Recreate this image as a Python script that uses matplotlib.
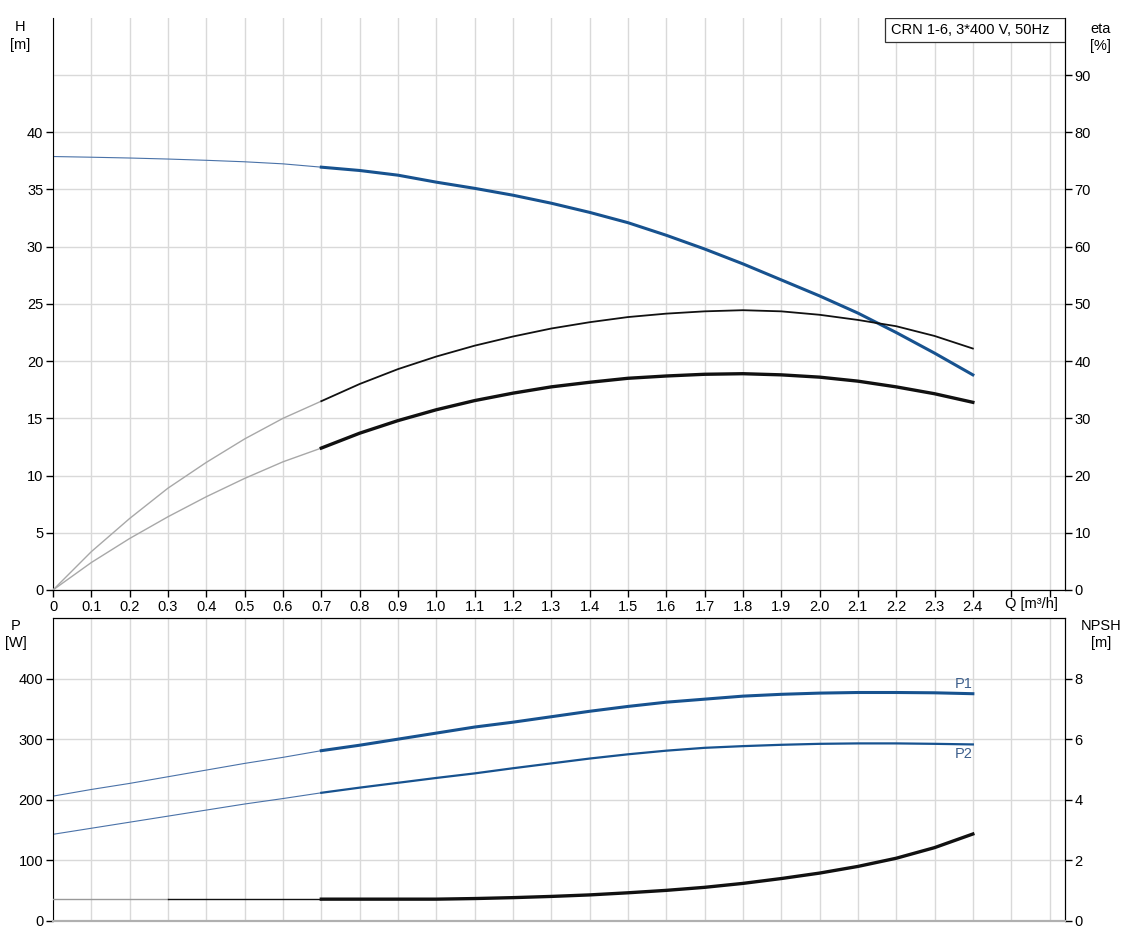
import matplotlib
matplotlib.use("Agg")
import matplotlib.pyplot as plt
from matplotlib.patches import Rectangle
from matplotlib.ticker import FixedLocator

plt.rcParams['font.family'] = ['Liberation Sans', 'DejaVu Sans']
plt.rcParams['font.size'] = 10.5

# flow [m3/h]
q = [0.0, 0.1, 0.2, 0.3, 0.4, 0.5, 0.6, 0.7, 0.8, 0.9, 1.0, 1.1, 1.2,
     1.3, 1.4, 1.5, 1.6, 1.7, 1.8, 1.9, 2.0, 2.1, 2.2, 2.3, 2.4]
# head [m]
head = [37.88, 37.82, 37.75, 37.66, 37.55, 37.42, 37.24, 36.95, 36.66, 36.25,
        35.64, 35.1, 34.5, 33.8, 33.0, 32.1, 31.0, 29.8, 28.5, 27.1,
        25.7, 24.2, 22.5, 20.7, 18.8]
# pump efficiency [%]
eta_pump = [0.0, 6.7, 12.5, 17.8, 22.3, 26.4, 30.0, 33.0, 36.0, 38.6,
            40.8, 42.7, 44.3, 45.7, 46.8, 47.7, 48.3, 48.7, 48.9, 48.7,
            48.1, 47.2, 46.1, 44.4, 42.2]
# total efficiency [%]
eta_total = [0.0, 4.8, 9.0, 12.8, 16.3, 19.5, 22.4, 24.8, 27.4, 29.6,
             31.5, 33.1, 34.4, 35.5, 36.3, 37.0, 37.4, 37.7, 37.8, 37.6,
             37.2, 36.5, 35.5, 34.3, 32.8]
# power [W]
p1 = [206, 217, 227, 238, 249, 260, 270, 281, 290, 300, 310, 320, 328,
      337, 346, 354, 361, 366, 371, 374, 376, 377, 377, 376.5, 375]
p2 = [143, 153, 163, 173, 183, 193, 202, 211.5, 220, 228, 236, 243.5, 252,
      260, 268, 275, 281, 285.7, 288.5, 290.7, 292.3, 293, 293, 292.3, 291.3]
# NPSH [m]
npsh = [0.72, 0.72, 0.72, 0.72, 0.72, 0.72, 0.72, 0.72, 0.72, 0.72, 0.72,
        0.74, 0.77, 0.81, 0.86, 0.93, 1.01, 1.11, 1.24, 1.40, 1.58, 1.80,
        2.07, 2.42, 2.87]

x_ticks = [i / 10 for i in range(27)]
x_labels = ['0'] + ['%.1f' % v for v in x_ticks[1:25]] + ['', '']

blue = '#17528f'
grid_c = '#d9d9d9'
k = 7  # index of Q=0.7, start of the operating range

fig = plt.figure(figsize=(11.28, 9.39), dpi=100)
ax = fig.add_axes([0.047, 0.3717, 0.897, 0.6093])
ax_eta = ax.twinx()
axp = fig.add_axes([0.047, 0.0192, 0.897, 0.3227])
ax_npsh = axp.twinx()

# ---- top panel: head + efficiencies
ax.plot(q[:k + 1], head[:k + 1], color='#4a72a8', lw=0.8)
ax.plot(q[k:], head[k:], color=blue, lw=2.2)
ax_eta.plot(q[:k + 1], eta_pump[:k + 1], color='#a8a8a8', lw=1.0)
ax_eta.plot(q[k:], eta_pump[k:], color='#111111', lw=1.3)
ax_eta.plot(q[:k + 1], eta_total[:k + 1], color='#a8a8a8', lw=1.0)
ax_eta.plot(q[k:], eta_total[k:], color='#111111', lw=2.4)

ax.set_xlim(0, 2.64)
ax.set_ylim(0, 50)
ax_eta.set_ylim(0, 100)
ax.set_xticks(x_ticks)
ax.set_xticklabels(x_labels)
ax.set_yticks(range(0, 45, 5))
ax.yaxis.set_minor_locator(FixedLocator([45]))
ax.tick_params(axis='y', which='minor', length=0)
ax_eta.set_yticks(range(0, 100, 10))
ax.grid(True, which='both', color=grid_c, lw=1)
ax.set_axisbelow(True)
ax.annotate('Q [m³/h]', xy=(2.5, 0), xycoords=('data', 'axes fraction'),
            xytext=(-4.5, -5), textcoords='offset points',
            ha='left', va='top')

for a in (ax, ax_eta):
    a.spines['top'].set_visible(False)
    a.spines['bottom'].set_color('black')
ax_eta.spines['left'].set_visible(False)
ax.tick_params(direction='out', length=5, width=1, pad=2)
ax_eta.tick_params(direction='out', length=5, width=1, pad=2)

fig.text(0.018, 0.979, 'H\n[m]', ha='center', va='top', linespacing=1.35)
fig.text(0.976, 0.977, 'eta\n[%]', ha='center', va='top', linespacing=1.3)

# title box in the top right corner
ax.add_patch(Rectangle((0.822, 0.958), 0.178, 0.042, transform=ax.transAxes,
                       fc='white', ec='#333333', lw=0.9, zorder=5))
ax.text(0.828, 0.979, 'CRN 1-6, 3*400 V, 50Hz', transform=ax.transAxes,
        ha='left', va='center', zorder=6)

# ---- bottom panel: power + NPSH
axp.plot(q[:k + 1], p1[:k + 1], color='#4a72a8', lw=0.8)
axp.plot(q[k:], p1[k:], color=blue, lw=2.2)
axp.plot(q[:k + 1], p2[:k + 1], color='#4a72a8', lw=0.8)
axp.plot(q[k:], p2[k:], color=blue, lw=1.6)
ax_npsh.plot(q[:4], npsh[:4], color='#999999', lw=1.0)
ax_npsh.plot(q[3:k + 1], npsh[3:k + 1], color='#111111', lw=1.0)
ax_npsh.plot(q[k:], npsh[k:], color='#111111', lw=2.4)

axp.text(q[-1], p1[-1] + 5, 'P1', ha='right', va='bottom', color='#3d5f8c')
axp.text(q[-1], p2[-1] - 5, 'P2', ha='right', va='top', color='#3d5f8c')

axp.set_xlim(0, 2.64)
axp.set_ylim(0, 500)
ax_npsh.set_ylim(0, 10)
axp.set_xticks(x_ticks)
axp.tick_params(axis='x', length=0, labelbottom=False)
axp.set_yticks(range(0, 500, 100))
axp.yaxis.set_minor_locator(FixedLocator([500]))
axp.tick_params(axis='y', which='minor', length=0)
ax_npsh.set_yticks(range(0, 10, 2))
axp.grid(True, which='both', color=grid_c, lw=1)
axp.set_axisbelow(True)
for a in (axp, ax_npsh):
    a.spines['bottom'].set_color('#b0b0b0')
    a.spines['bottom'].set_linewidth(1.5)
    a.spines['top'].set_color('black')
ax_npsh.spines['left'].set_visible(False)
axp.tick_params(axis='y', direction='out', length=5, width=1, pad=2)
ax_npsh.tick_params(direction='out', length=5, width=1, pad=2)

fig.text(0.014, 0.341, 'P\n[W]', ha='center', va='top', linespacing=1.3)
fig.text(0.976, 0.341, 'NPSH\n[m]', ha='center', va='top', linespacing=1.3)

fig.savefig('out.png', dpi=100)
